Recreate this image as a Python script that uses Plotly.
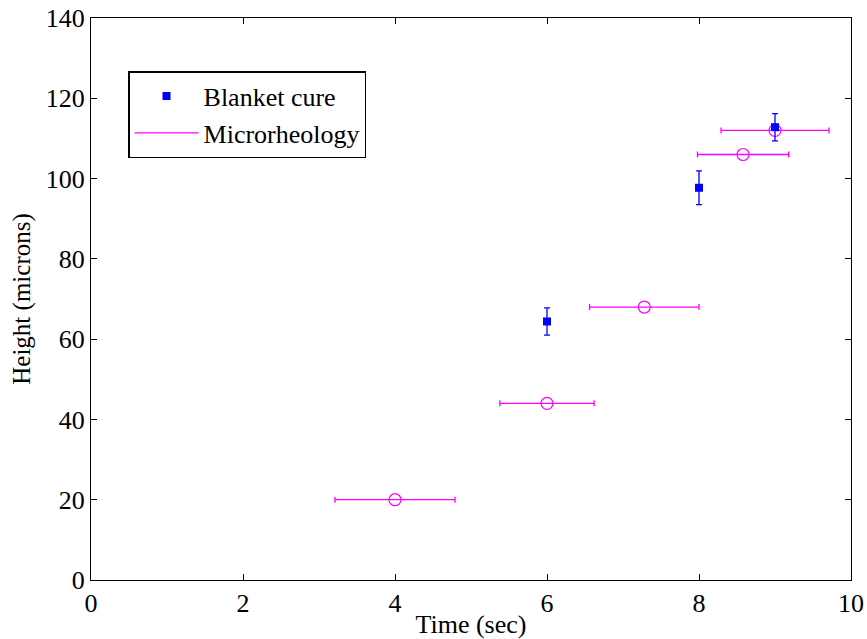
import plotly.graph_objects as go

# Blanket cure measurements (height vs. exposure time, with vertical error)
cure_time = [6, 8, 9]
cure_height = [64.4, 97.7, 112.8]
cure_err = [3.4, 4.2, 3.4]

# Microrheology estimates (with horizontal time uncertainty)
micro_time = [4.0, 6.0, 7.28, 8.58, 9.0]
micro_height = [20, 44, 68, 106, 112]
micro_terr = [0.79, 0.62, 0.72, 0.60, 0.71]

BLUE = "#0000ff"
MAGENTA = "#ff00ff"
FONT = '"Liberation Serif", "Times New Roman", Times, serif'

fig = go.Figure()

fig.add_trace(go.Scatter(
    x=micro_time, y=micro_height, mode="markers", showlegend=False,
    marker=dict(symbol="circle-open", size=12, color=MAGENTA, line=dict(width=1.2)),
    error_x=dict(type="data", array=micro_terr, color=MAGENTA, thickness=1.3, width=3),
))

fig.add_trace(go.Scatter(
    x=cure_time, y=cure_height, mode="markers", name="Blanket cure",
    marker=dict(symbol="square", size=8, color=BLUE),
    error_y=dict(type="data", array=cure_err, color=BLUE, thickness=1.3, width=3),
))

# legend entry for the microrheology series, drawn as a line
fig.add_trace(go.Scatter(
    x=[None], y=[None], mode="lines", name="Microrheology",
    line=dict(color=MAGENTA, width=1.3),
))

axis_common = dict(
    showgrid=False, zeroline=False, showline=True, linecolor="black", linewidth=1.3,
    mirror="ticks", ticks="inside", ticklen=6, tickcolor="black", tickwidth=1,
    tickfont=dict(family=FONT, size=26, color="black"), automargin=False,
)

fig.update_layout(
    width=867, height=639,
    margin=dict(l=91, r=16, t=18, b=59),
    paper_bgcolor="white", plot_bgcolor="white",
    font=dict(family=FONT, color="black"),
    xaxis=dict(range=[0, 10], dtick=2, title=dict(text="Time (sec)", font=dict(family=FONT, size=26), standoff=0),
               **axis_common),
    yaxis=dict(range=[0, 140], dtick=20, title=dict(text="Height (microns)", font=dict(family=FONT, size=25), standoff=7),
               **axis_common),
    legend=dict(x=0.049, y=0.905, xanchor="left", yanchor="top",
                bgcolor="white", bordercolor="black", borderwidth=1.3,
                font=dict(family=FONT, size=26), itemwidth=64, tracegroupgap=0),
)

fig.write_html("out.html")
